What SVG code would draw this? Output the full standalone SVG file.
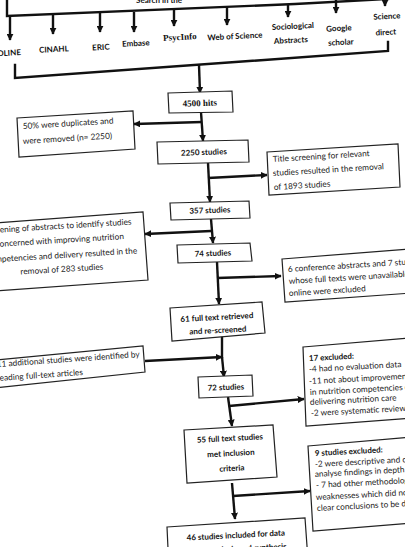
<svg xmlns="http://www.w3.org/2000/svg" width="405" height="547" viewBox="0 0 405 547">
<defs>
<marker id="ah" viewBox="0 0 10 10" refX="9" refY="5" markerWidth="7" markerHeight="7" markerUnits="userSpaceOnUse" orient="auto">
<path d="M0,0 L10,5 L0,10 z" fill="#111"/>
</marker>
<style>
.c{fill:none;stroke:#111;stroke-width:2.4;stroke-linecap:square}
.ca{fill:none;stroke:#111;stroke-width:2.4;marker-end:url(#ah)}
.b{fill:#fff;stroke:#222;stroke-width:1.2}
.t{font-family:Lato,"Liberation Sans",sans-serif;font-size:8.3px;fill:#222}
.tb{font-family:Lato,"Liberation Sans",sans-serif;font-size:8px;font-weight:bold;fill:#111}
.ts{font-family:"Liberation Serif",serif;font-size:9px;font-weight:bold;fill:#111}
.m{text-anchor:middle}
</style>
</defs>
<rect width="405" height="547" fill="#fff"/>

<g id="connectors">
<path class="c" d="M7,0 L7,16 L295,4 L405,-2"/>
<line class="ca" x1="10" y1="17" x2="10" y2="40"/>
<line class="ca" x1="53" y1="15" x2="53" y2="34"/>
<line class="ca" x1="100" y1="13" x2="100" y2="32"/>
<line class="ca" x1="134" y1="12" x2="134" y2="32"/>
<line class="ca" x1="174" y1="9" x2="174" y2="26"/>
<line class="ca" x1="227" y1="7" x2="227" y2="25"/>
<line class="ca" x1="288" y1="4" x2="288" y2="17"/>
<line class="ca" x1="336" y1="0" x2="336" y2="13"/>
<line class="ca" x1="385" y1="-3" x2="385" y2="6"/>
<path class="c" d="M15,65 L15,78 L388,51 L388,42"/>
<line class="ca" x1="199" y1="65" x2="200" y2="93"/>
<line class="ca" x1="201" y1="112" x2="203" y2="141"/>
<line class="ca" x1="202" y1="122" x2="134" y2="124"/>
<line class="ca" x1="208" y1="163" x2="210" y2="202"/>
<line class="ca" x1="208" y1="178" x2="267" y2="175"/>
<line class="ca" x1="211" y1="219" x2="213" y2="243"/>
<line class="ca" x1="211" y1="231" x2="145" y2="234"/>
<line class="ca" x1="217" y1="262" x2="219" y2="304"/>
<line class="ca" x1="217" y1="278" x2="281" y2="276"/>
<line class="c" x1="222" y1="334" x2="222" y2="357"/>
<line class="ca" x1="145" y1="361" x2="222" y2="357"/>
<line class="ca" x1="222" y1="357" x2="224" y2="377"/>
<line class="ca" x1="228" y1="397" x2="232" y2="426"/>
<line class="ca" x1="229" y1="406" x2="304" y2="399"/>
<line class="ca" x1="232" y1="483" x2="235" y2="519"/>
<line class="ca" x1="233" y1="496" x2="310" y2="491"/>
</g>

<g id="n-search"><text class="tb" x="136" y="3">Search in the</text></g>
<g id="n-medline"><text class="tb" x="21" y="55" text-anchor="end" transform="rotate(-3 21 55)">MEDLINE</text></g>
<g id="n-cinahl"><text class="tb m" x="54" y="52" transform="rotate(-3 54 52)">CINAHL</text></g>
<g id="n-eric"><text class="tb m" x="101" y="50" transform="rotate(-3 101 50)">ERIC</text></g>
<g id="n-embase"><text class="tb m" x="136" y="46" transform="rotate(-3 136 46)">Embase</text></g>
<g id="n-psycinfo"><text class="ts m" x="180" y="40" transform="rotate(-3 180 40)">PsycInfo</text></g>
<g id="n-wos"><text class="tb m" x="235" y="39" transform="rotate(-3 235 39)">Web of Science</text></g>
<g id="n-socio"><text class="tb m" x="293" y="29" transform="rotate(-3 293 29)">Sociological</text><text class="tb m" x="291" y="43" transform="rotate(-3 291 43)">Abstracts</text></g>
<g id="n-google"><text class="tb m" x="339" y="31" transform="rotate(-3 339 31)">Google</text><text class="tb m" x="341" y="45" transform="rotate(-3 341 45)">scholar</text></g>
<g id="n-sd"><text class="tb m" x="387" y="19" transform="rotate(-3 387 19)">Science</text><text class="tb m" x="386" y="35" transform="rotate(-3 386 35)">direct</text></g>

<g id="n-4500"><polygon class="b" points="168,93 232,91 233,112 169,113"/><text class="ts m" x="200" y="106" transform="rotate(-2 200 106)">4500 hits</text></g>
<g id="n-dup"><polygon class="b" points="17,118 133,111 135,149 19,157"/><text class="t" x="23" y="129" transform="rotate(-3.5 23 129)">50% were duplicates and</text><text class="t" x="23" y="144" transform="rotate(-3.5 23 144)">were removed (n= 2250)</text></g>
<g id="n-2250"><polygon class="b" points="157,142 248,140 249,162 158,164"/><text class="tb m" x="204" y="155" transform="rotate(-2 204 155)">2250 studies</text></g>
<g id="n-title"><polygon class="b" points="267,152 398,144 400,187 269,195"/><text class="t" x="273" y="162" transform="rotate(-3.5 273 162)">Title screening for relevant</text><text class="t" x="273" y="176" transform="rotate(-3.5 273 176)">studies resulted in the removal</text><text class="t" x="274" y="190" transform="rotate(-3.5 274 190)">of 1893 studies</text></g>
<g id="n-357"><polygon class="b" points="170,203 249,201 250,218 171,220"/><text class="tb m" x="210" y="213" transform="rotate(-2 210 213)">357 studies</text></g>
<g id="n-abs"><polygon class="b" points="-5,223 143,212 148,280 -5,291"/><text class="t m" x="58" y="229" transform="rotate(-3.5 58 229)">Screening of abstracts to identify studies</text><text class="t m" x="60" y="243" transform="rotate(-3.5 60 243)">concerned with improving nutrition</text><text class="t m" x="62" y="258" transform="rotate(-3.5 62 258)">competencies and delivery resulted in the</text><text class="t m" x="62" y="272" transform="rotate(-3.5 62 272)">removal of 283 studies</text></g>
<g id="n-74"><polygon class="b" points="177,245 250,243 252,261 178,263"/><text class="tb m" x="213" y="256" transform="rotate(-2 213 256)">74 studies</text></g>
<g id="n-conf"><polygon class="b" points="282,259 410,249 412,293 285,302"/><text class="t" x="288" y="272" transform="rotate(-3.5 288 272)">6 conference abstracts and 7 studies</text><text class="t" x="289" y="284" transform="rotate(-3.5 289 284)">whose full texts were unavailable</text><text class="t" x="289" y="296" transform="rotate(-3.5 289 296)">online were excluded</text></g>
<g id="n-61"><polygon class="b" points="170,308 262,302 265,333 172,341"/><text class="tb m" x="217" y="320" transform="rotate(-3 217 320)">61 full text retrieved</text><text class="tb m" x="218" y="333" transform="rotate(-3 218 333)">and re-screened</text></g>
<g id="n-add"><polygon class="b" points="-5,360 143,346 145,372 -5,388"/><text class="t" x="-3" y="367" transform="rotate(-4 -3 367)">11 additional studies were identified by</text><text class="t" x="-3" y="381" transform="rotate(-4 -3 381)">reading full-text articles</text></g>
<g id="n-72"><polygon class="b" points="198,377 252,375 253,396 199,398"/><text class="tb m" x="226" y="390" transform="rotate(-2 226 390)">72 studies</text></g>
<g id="n-ex17"><polygon class="b" points="303,347 410,338 412,418 306,426"/><text class="tb" x="309" y="361" transform="rotate(-3 309 361)">17 excluded:</text><text class="t" x="309" y="372" transform="rotate(-3 309 372)">-4 had no evaluation data</text><text class="t" x="309" y="384" transform="rotate(-3 309 384)">-11 not about improvements</text><text class="t" x="310" y="395" transform="rotate(-3 310 395)">in nutrition competencies or</text><text class="t" x="310" y="405" transform="rotate(-3 310 405)">delivering nutrition care</text><text class="t" x="311" y="416" transform="rotate(-3 311 416)">-2 were systematic reviews</text></g>
<g id="n-55"><polygon class="b" points="184,430 273,425 277,477 187,483"/><text class="tb m" x="230" y="441" transform="rotate(-3 230 441)">55 full text studies</text><text class="tb m" x="231" y="456" transform="rotate(-3 231 456)">met inclusion</text><text class="tb m" x="232" y="471" transform="rotate(-3 232 471)">criteria</text></g>
<g id="n-ex9"><polygon class="b" points="308,446 412,437 414,523 313,531"/><text class="tb" x="315" y="456" transform="rotate(-3 315 456)">9 studies excluded:</text><text class="t" x="315" y="467" transform="rotate(-3 315 467)">-2 were descriptive and did not</text><text class="t" x="315" y="477" transform="rotate(-3 315 477)">analyse findings in depth</text><text class="t" x="316" y="488" transform="rotate(-3 316 488)">- 7 had other methodological</text><text class="t" x="316" y="500" transform="rotate(-3 316 500)">weaknesses which did not allow</text><text class="t" x="317" y="511" transform="rotate(-3 317 511)">clear conclusions to be drawn</text></g>
<g id="n-46"><polygon class="b" points="167,527 305,518 308,560 169,570"/><text class="tb m" x="236" y="538" transform="rotate(-3 236 538)">46 studies included for data</text><text class="tb m" x="248" y="551" transform="rotate(-3 248 551)">analysis and synthesis</text></g>
</svg>
